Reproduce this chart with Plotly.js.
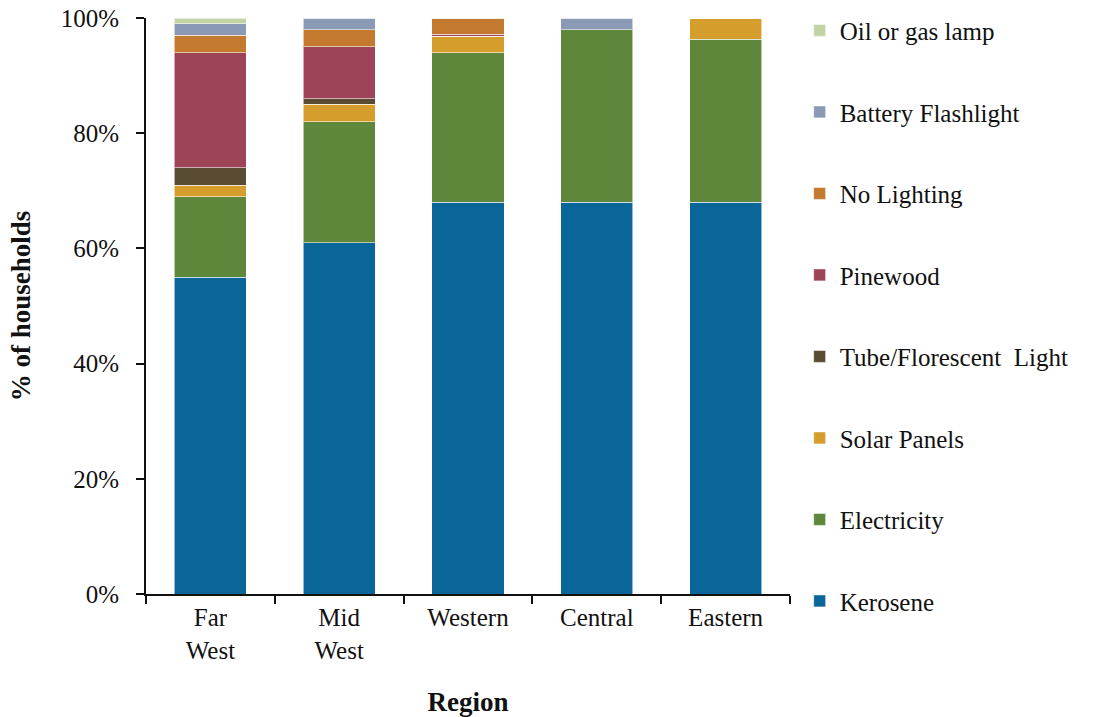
<!DOCTYPE html>
<html>
<head>
<meta charset="utf-8">
<script src="https://cdn.plot.ly/plotly-3.0.1.min.js"></script>
<style>body{margin:0;background:#fff;} #chart{width:1101px;height:717px;}</style>
</head>
<body>
<div id="chart"></div>
<script>
const regions = ["Far<br>West", "Mid<br>West", "Western", "Central", "Eastern"];

const kerosene     = [55, 61, 68, 68, 68];
const electricity  = [14, 21, 26, 30, 28.3];
const solarPanels  = [2, 3, 2.8, 0, 3.7];
const tubeLight    = [3, 1, 0, 0, 0];
const pinewood     = [20, 9, 0.4, 0, 0];
const noLighting   = [3, 3, 2.8, 0, 0];
const battery      = [2, 2, 0, 2, 0];
const oilGasLamp   = [1, 0, 0, 0, 0];

const seriesNames  = ["Kerosene", "Electricity", "Solar Panels", "Tube/Florescent  Light", "Pinewood", "No Lighting", "Battery Flashlight", "Oil or gas lamp"];
const seriesValues = [kerosene, electricity, solarPanels, tubeLight, pinewood, noLighting, battery, oilGasLamp];
const seriesColors = ["#0a6699", "#5f873b", "#d49d2c", "#594c33", "#9e4459", "#c47a2e", "#8a9ab4", "#c2d4a4"];

const traces = seriesNames.map((n, i) => ({
  type: "bar",
  name: n,
  x: regions,
  y: seriesValues[i].map(v => v / 100),
  marker: {color: seriesColors[i], line: {color: "rgba(255,255,255,0.55)", width: 1}},
  legendgroup: "g" + i,
  legendrank: 1000 - i,
  hoverinfo: "skip"
}));

const font = "Liberation Serif, Times New Roman, serif";

const layout = {
  width: 1101, height: 717,
  barmode: "stack",
  bargap: 0.44,
  margin: {l: 146, r: 311, t: 18, b: 123, autoexpand: false},
  paper_bgcolor: "#fff",
  plot_bgcolor: "#fff",
  font: {family: font, size: 25, color: "#111"},
  xaxis: {
    showline: true, linecolor: "#111", linewidth: 2,
    ticks: "outside", ticklen: 8, tickwidth: 2, tickcolor: "#111",
    tickson: "boundaries",
    tickfont: {family: font, size: 25},
    title: {text: "<b>Region</b>", font: {family: font, size: 27}, standoff: 32}
  },
  yaxis: {
    range: [0, 1],
    tickvals: [0, 0.2, 0.4, 0.6, 0.8, 1],
    tickformat: ".0%",
    showline: true, linecolor: "#111", linewidth: 2,
    ticks: "outside", ticklen: 8, tickwidth: 2, tickcolor: "#111",
    showgrid: false, zeroline: false,
    ticklabelstandoff: 12,
    tickfont: {family: font, size: 25},
    title: {text: "<b>% of households</b>", font: {family: font, size: 27}, standoff: 22}
  },
  legend: {
    x: 1.015, xanchor: "left", y: 1.018, yanchor: "top",
    traceorder: "grouped",
    tracegroupgap: 46,
    maxheight: 717,
    font: {family: font, size: 25},
    itemwidth: 30
  }
};

Plotly.newPlot("chart", traces, layout, {displayModeBar: false, staticPlot: true});
</script>
</body>
</html>
